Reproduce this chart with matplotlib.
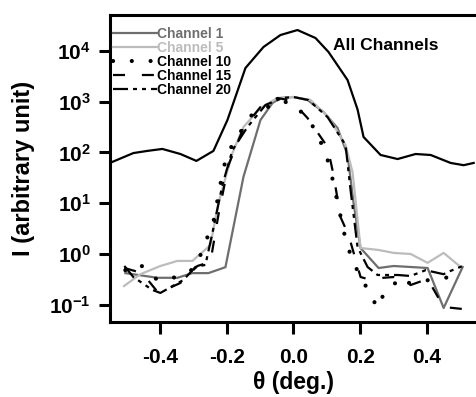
import matplotlib
matplotlib.use("Agg")
import matplotlib.pyplot as plt

plt.rcParams['font.family'] = ['Liberation Sans', 'DejaVu Sans']
plt.rcParams['font.weight'] = 'bold'
plt.rcParams['axes.unicode_minus'] = False
plt.rcParams['mathtext.fontset'] = 'custom'
plt.rcParams['mathtext.bf'] = 'Liberation Sans:bold'
plt.rcParams['mathtext.rm'] = 'Liberation Sans:bold'

# Data
all_theta = [-0.543, -0.480, -0.438, -0.393, -0.339, -0.291, -0.240, -0.198, -0.144, -0.090,
             -0.039, 0.012, 0.066, 0.105, 0.162, 0.192, 0.210, 0.261, 0.312, 0.366,
             0.411, 0.471, 0.510, 0.540]
all_I = [65, 97, 107, 117, 93, 68, 107, 434, 4590, 11880,
         20470, 25650, 17860, 9470, 2660, 700, 201, 89, 74, 93,
         89, 62, 56, 62]

ch1_theta = [-0.504, -0.408, -0.348, -0.303, -0.255, -0.204, -0.150, -0.099, -0.063, -0.039,
             0.0, 0.042, 0.090, 0.132, 0.162, 0.180, 0.201, 0.255, 0.300, 0.402,
             0.450, 0.507]
ch1_I = [0.42, 0.34, 0.34, 0.42, 0.42, 0.55, 33, 434, 938, 1178,
         1232, 1075, 624, 302, 89, 10.1, 1.31, 0.53, 0.58, 0.53,
         0.0865, 0.555]

ch5_theta = [-0.508, -0.459, -0.399, -0.348, -0.303, -0.249, -0.225, -0.183, -0.150, -0.099,
             -0.048, 0.0, 0.051, 0.105, 0.156, 0.177, 0.201, 0.255, 0.300, 0.351,
             0.402, 0.450, 0.501]
ch5_I = [0.234, 0.40, 0.58, 0.73, 0.73, 1.5, 10.1, 97, 316, 748,
         1178, 1232, 1075, 497, 140, 41, 1.31, 1.20, 1.05, 1.0,
         0.67, 1.05, 0.555]

ch10_theta = [-0.504, -0.462, -0.408, -0.348, -0.294, -0.240, -0.210, -0.195, -0.183, -0.129,
              -0.048, -0.024, 0.006, 0.069, 0.108, 0.159, 0.186, 0.252, 0.273, 0.327,
              0.345, 0.492]
ch10_I = [0.48, 0.64, 0.308, 0.352, 0.53, 4.3, 49, 102, 140, 521,
          982, 982, 857, 264, 56, 1.57, 0.555, 0.0865, 0.179, 0.352,
          0.269, 0.369]

ch15_theta = [-0.507, -0.453, -0.405, -0.339, -0.288, -0.249, -0.225, -0.195, -0.150, -0.099,
              -0.048, -0.024, 0.006, 0.042, 0.069, 0.102, 0.120, 0.141, 0.165, 0.201,
              0.222, 0.300, 0.351, 0.402, 0.450, 0.507]
ch15_I = [0.53, 0.42, 0.171, 0.269, 0.58, 0.70, 5.9, 56, 302, 783,
          1178, 1100, 857, 476, 264, 128, 36, 5.3, 2.37, 0.352,
          0.322, 0.352, 0.245, 0.322, 0.0905, 0.0826]

ch20_theta = [-0.507, -0.480, -0.423, -0.399, -0.330, -0.294, -0.264, -0.243, -0.213, -0.183,
              -0.138, -0.084, -0.033, 0.0, 0.045, 0.102, 0.156, 0.171, 0.192, 0.222,
              0.252, 0.312, 0.351, 0.396, 0.450, 0.462, 0.507]
ch20_I = [0.58, 0.352, 0.196, 0.171, 0.308, 0.555, 0.61, 2.6, 23, 111,
          316, 857, 1178, 1232, 1075, 497, 140, 18.2, 1.37, 0.555,
          0.386, 0.386, 0.369, 0.48, 0.40, 0.44, 0.58]

xticks = [-0.4, -0.2, 0.0, 0.2, 0.4]
yexps = [-1, 0, 1, 2, 3, 4]

fig = plt.figure(figsize=(4.77, 3.97), dpi=100)
ax = fig.add_axes([0.2306, 0.1889, 0.7694, 0.7733])

ax.plot(all_theta, all_I, color='black', lw=1.6)
ax.plot(ch1_theta, ch1_I, color='#6e6e6e', lw=1.6, label='Channel 1')
ax.plot(ch5_theta, ch5_I, color='#bcbcbc', lw=1.6, label='Channel 5')
ax.plot(ch10_theta, ch10_I, color='black', lw=3.0, linestyle=(0, (0.01, 4.5)),
        dash_capstyle='round', label='Channel 10')
ax.plot(ch15_theta, ch15_I, color='black', lw=1.6, linestyle=(0, (5.4, 7.6)),
        label='Channel 15')
ax.plot(ch20_theta, ch20_I, color='black', lw=1.6,
        linestyle=(0, (6.75, 2.25, 1.8, 2.25, 1.8, 2.25)), label='Channel 20')

ax.set_yscale('log')
ax.set_xlim(-0.55, 0.55)
ax.set_ylim(0.0458, 50700)

ax.set_xticks(xticks)
ax.set_xticklabels(['%.1f' % t for t in xticks])
ax.set_yticks([10.0 ** e for e in yexps])
ax.set_yticklabels([r'$\mathbf{10^{%d}}$' % e for e in yexps])
ax.minorticks_off()
ax.tick_params(axis='both', labelsize=15, width=2.2)
ax.tick_params(axis='y', length=8, pad=6)
ax.tick_params(axis='x', length=8.5, pad=10)

for s in ['left', 'bottom', 'top']:
    ax.spines[s].set_linewidth(2.2)
ax.spines['right'].set_visible(False)

ax.set_xlabel('θ (deg.)', fontsize=16.5, fontweight='bold', labelpad=3)
ax.set_ylabel('I (arbitrary unit)', fontsize=17, fontweight='bold', labelpad=10)

ax.text(0.608, 0.902, 'All Channels', transform=ax.transAxes,
        fontsize=12.5, fontweight='bold', va='center', ha='left')

leg = ax.legend(loc='upper left', bbox_to_anchor=(0.007, 0.962), frameon=False,
                fontsize=10, handlelength=3.2, handletextpad=0.0,
                labelspacing=0.0, borderpad=0.0, borderaxespad=0.0)
for txt, c in zip(leg.get_texts(), ['#6e6e6e', '#bcbcbc', 'black', 'black', 'black']):
    txt.set_color(c)

fig.savefig('out.png', dpi=100)
